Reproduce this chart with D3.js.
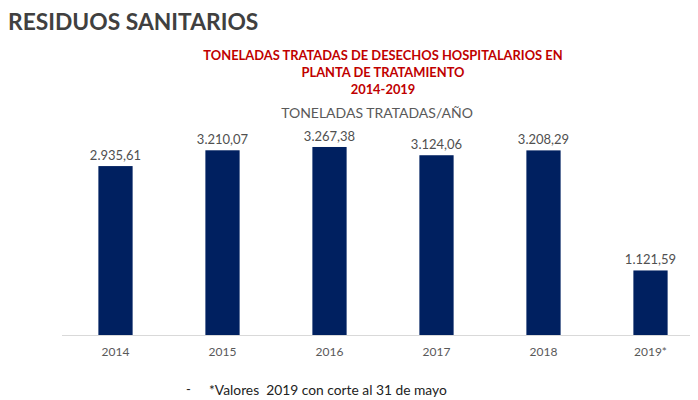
<!DOCTYPE html>
<html>
<head>
<meta charset="utf-8">
<script src="https://cdn.jsdelivr.net/npm/d3@7"></script>
<style>
  body { margin: 0; background: #fff; }
  text { font-family: Lato, "Open Sans", sans-serif; }
</style>
</head>
<body>
<div id="chart"></div>
<script>
const width = 698;
const height = 400;

// datos
const anios = ["2014", "2015", "2016", "2017", "2018", "2019*"];
const toneladas = [2935.61, 3210.07, 3267.38, 3124.06, 3208.29, 1121.59];
const etiquetas = ["2.935,61", "3.210,07", "3.267,38", "3.124,06", "3.208,29", "1.121,59"];

const svg = d3.select("#chart")
  .append("svg")
  .attr("width", width)
  .attr("height", height);

const x = d3.scaleBand()
  .domain(anios)
  .range([62, 704])
  .paddingInner(0.68)
  .paddingOuter(0.34);

const y = d3.scaleLinear()
  .domain([0, 3500])
  .range([335, 133.6]);

// titulo principal
svg.append("text")
  .attr("x", 8)
  .attr("y", 30)
  .attr("font-size", 22.8)
  .attr("font-weight", "bold")
  .attr("fill", "#404040")
  .text("RESIDUOS SANITARIOS");

// subtitulo rojo
const sub = ["TONELADAS TRATADAS DE DESECHOS HOSPITALARIOS EN", "PLANTA DE TRATAMIENTO", "2014-2019"];
svg.selectAll(".sub")
  .data(sub)
  .enter()
  .append("text")
  .attr("class", "sub")
  .attr("x", 383)
  .attr("y", (d, i) => 60 + i * 17)
  .attr("text-anchor", "middle")
  .attr("font-size", 12.9)
  .attr("font-weight", "bold")
  .attr("fill", "#c00000")
  .text(d => d);

svg.append("text")
  .attr("x", 377)
  .attr("y", 118)
  .attr("text-anchor", "middle")
  .attr("font-size", 14)
  .attr("fill", "#595959")
  .text("TONELADAS TRATADAS/AÑO");

// barras
svg.selectAll("rect.bar")
  .data(toneladas)
  .enter()
  .append("rect")
  .attr("class", "bar")
  .attr("x", (d, i) => x(anios[i]))
  .attr("y", d => y(d))
  .attr("width", x.bandwidth())
  .attr("height", d => y(0) - y(d))
  .attr("fill", "#002060");

svg.selectAll("text.val")
  .data(toneladas)
  .enter()
  .append("text")
  .attr("class", "val")
  .attr("x", (d, i) => x(anios[i]) + x.bandwidth() / 2)
  .attr("y", d => y(d) - 6)
  .attr("text-anchor", "middle")
  .attr("font-size", 13)
  .attr("fill", "#505050")
  .text((d, i) => etiquetas[i]);

// eje x
svg.append("line")
  .attr("x1", 62).attr("x2", 690)
  .attr("y1", y(0) + 0.5).attr("y2", y(0) + 0.5)
  .attr("stroke", "#d9d9d9");

const ejeX = svg.append("g")
  .attr("transform", `translate(0,${y(0)})`)
  .call(d3.axisBottom(x).tickSize(0).tickPadding(12));
ejeX.select(".domain").remove();
ejeX.selectAll("text")
  .attr("font-size", 12)
  .attr("fill", "#595959")
  .style("font-family", "Lato, 'Open Sans', sans-serif");

// nota
svg.append("text")
  .attr("x", 186)
  .attr("y", 394)
  .attr("font-size", 13)
  .attr("fill", "#222")
  .text("-");

svg.append("text")
  .attr("x", 209)
  .attr("y", 395)
  .attr("font-size", 13.8)
  .attr("fill", "#222")
  .attr("xml:space", "preserve")
  .style("white-space", "pre")
  .text("*Valores  2019 con corte al 31 de mayo");
</script>
</body>
</html>
